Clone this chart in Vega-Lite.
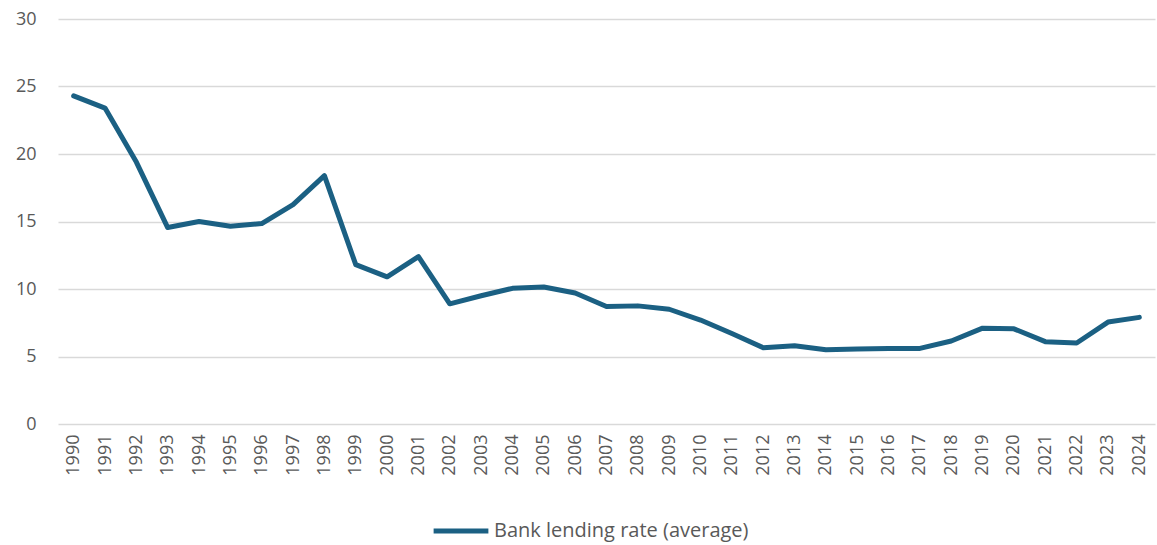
{
  "$schema": "https://vega.github.io/schema/vega-lite/v6.json",
  "autosize": "none",
  "width": 1097,
  "height": 405,
  "padding": {"left": 58, "top": 19, "right": 2, "bottom": 121},
  "background": "white",
  "config": {
    "view": {"stroke": null},
    "font": "Open Sans",
    "axis": {"labelFont": "Open Sans", "labelColor": "#595959", "labelFontSize": 18},
    "legend": {"labelFont": "Open Sans", "labelColor": "#595959", "labelFontSize": 20}
  },
  "data": {
    "values": [
      {"year": "1990", "rate": 24.3, "series": "Bank lending rate (average)"},
      {"year": "1991", "rate": 23.4, "series": "Bank lending rate (average)"},
      {"year": "1992", "rate": 19.4, "series": "Bank lending rate (average)"},
      {"year": "1993", "rate": 14.55, "series": "Bank lending rate (average)"},
      {"year": "1994", "rate": 15.0, "series": "Bank lending rate (average)"},
      {"year": "1995", "rate": 14.65, "series": "Bank lending rate (average)"},
      {"year": "1996", "rate": 14.85, "series": "Bank lending rate (average)"},
      {"year": "1997", "rate": 16.25, "series": "Bank lending rate (average)"},
      {"year": "1998", "rate": 18.4, "series": "Bank lending rate (average)"},
      {"year": "1999", "rate": 11.8, "series": "Bank lending rate (average)"},
      {"year": "2000", "rate": 10.9, "series": "Bank lending rate (average)"},
      {"year": "2001", "rate": 12.4, "series": "Bank lending rate (average)"},
      {"year": "2002", "rate": 8.9, "series": "Bank lending rate (average)"},
      {"year": "2003", "rate": 9.5, "series": "Bank lending rate (average)"},
      {"year": "2004", "rate": 10.05, "series": "Bank lending rate (average)"},
      {"year": "2005", "rate": 10.15, "series": "Bank lending rate (average)"},
      {"year": "2006", "rate": 9.7, "series": "Bank lending rate (average)"},
      {"year": "2007", "rate": 8.7, "series": "Bank lending rate (average)"},
      {"year": "2008", "rate": 8.75, "series": "Bank lending rate (average)"},
      {"year": "2009", "rate": 8.5, "series": "Bank lending rate (average)"},
      {"year": "2010", "rate": 7.7, "series": "Bank lending rate (average)"},
      {"year": "2011", "rate": 6.7, "series": "Bank lending rate (average)"},
      {"year": "2012", "rate": 5.65, "series": "Bank lending rate (average)"},
      {"year": "2013", "rate": 5.8, "series": "Bank lending rate (average)"},
      {"year": "2014", "rate": 5.5, "series": "Bank lending rate (average)"},
      {"year": "2015", "rate": 5.55, "series": "Bank lending rate (average)"},
      {"year": "2016", "rate": 5.6, "series": "Bank lending rate (average)"},
      {"year": "2017", "rate": 5.6, "series": "Bank lending rate (average)"},
      {"year": "2018", "rate": 6.15, "series": "Bank lending rate (average)"},
      {"year": "2019", "rate": 7.1, "series": "Bank lending rate (average)"},
      {"year": "2020", "rate": 7.05, "series": "Bank lending rate (average)"},
      {"year": "2021", "rate": 6.1, "series": "Bank lending rate (average)"},
      {"year": "2022", "rate": 6.0, "series": "Bank lending rate (average)"},
      {"year": "2023", "rate": 7.55, "series": "Bank lending rate (average)"},
      {"year": "2024", "rate": 7.9, "series": "Bank lending rate (average)"}
    ]
  },
  "mark": {"type": "line", "strokeWidth": 5, "strokeCap": "round", "strokeJoin": "round"},
  "encoding": {
    "x": {
      "field": "year",
      "type": "ordinal",
      "scale": {"type": "point", "padding": 0.5},
      "axis": {
        "title": null,
        "labelAngle": -90,
        "labelPadding": 10,
        "ticks": false,
        "domain": false,
        "grid": false
      }
    },
    "y": {
      "field": "rate",
      "type": "quantitative",
      "scale": {"domain": [0, 30], "nice": false},
      "axis": {
        "title": null,
        "values": [0, 5, 10, 15, 20, 25, 30],
        "ticks": false,
        "domain": false,
        "labelPadding": 22,
        "gridColor": "#d9d9d9",
        "gridWidth": 1.5
      }
    },
    "color": {
      "field": "series",
      "type": "nominal",
      "scale": {"range": ["#1B6083"]},
      "legend": {
        "title": null,
        "orient": "none",
        "legendX": 373,
        "legendY": 482,
        "symbolType": "stroke",
        "symbolSize": 3000,
        "symbolStrokeWidth": 5,
        "labelOffset": 3,
        "labelLimit": 500,
        "labelBaseline": "middle"
      }
    }
  }
}
